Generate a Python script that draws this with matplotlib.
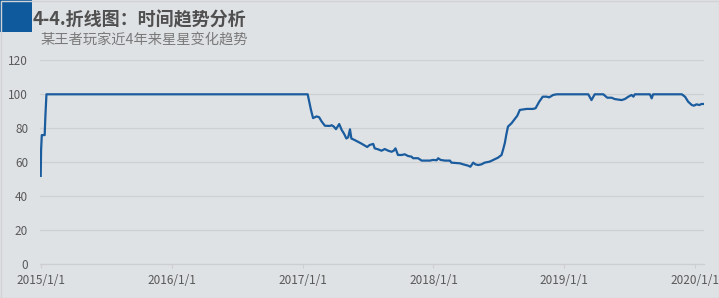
import matplotlib
matplotlib.use("Agg")
import matplotlib.pyplot as plt
import matplotlib.dates as mdates
import pandas as pd
from matplotlib.patches import Rectangle

plt.rcParams['font.family'] = ['Noto Sans CJK SC', 'DejaVu Sans']

title = "4-4.折线图：时间趋势分析"
subtitle = "某王者玩家近4年来星星变化趋势"

dates = [
    "2015-01-01", "2015-01-02", "2015-01-04", "2015-01-12", "2015-01-14", "2015-01-17",
    "2017-01-15", "2017-01-24", "2017-01-30", "2017-02-09", "2017-02-16", "2017-02-23",
    "2017-03-04", "2017-03-18", "2017-03-23", "2017-03-29", "2017-04-04", "2017-04-13",
    "2017-04-20", "2017-04-26", "2017-05-03", "2017-05-08", "2017-05-13", "2017-05-17",
    "2017-05-27", "2017-06-05", "2017-06-14", "2017-06-30", "2017-07-07", "2017-07-17",
    "2017-07-21", "2017-07-31", "2017-08-09", "2017-08-18", "2017-08-28", "2017-09-06",
    "2017-09-12", "2017-09-17", "2017-09-24", "2017-10-04", "2017-10-13", "2017-10-22",
    "2017-11-01", "2017-11-05", "2017-11-19", "2017-11-29", "2017-12-22", "2017-12-31",
    "2018-01-10", "2018-01-14", "2018-01-21", "2018-02-02", "2018-02-16", "2018-02-20",
    "2018-03-16", "2018-03-25", "2018-04-08", "2018-04-14", "2018-04-22", "2018-04-28",
    "2018-05-06", "2018-05-15", "2018-05-24", "2018-06-07", "2018-06-21", "2018-06-30",
    "2018-07-10", "2018-07-14", "2018-07-19", "2018-07-24", "2018-07-28", "2018-08-07",
    "2018-08-16", "2018-08-23", "2018-08-30", "2018-09-18", "2018-10-06", "2018-10-13",
    "2018-10-23", "2018-11-02", "2018-11-13", "2018-11-20", "2018-12-01", "2018-12-11",
    "2019-03-09", "2019-03-18", "2019-03-27", "2019-04-20", "2019-05-01", "2019-05-13",
    "2019-05-22", "2019-06-10", "2019-06-19", "2019-06-29", "2019-07-08", "2019-07-13",
    "2019-07-17", "2019-08-28", "2019-09-02", "2019-09-06", "2019-11-25", "2019-12-04",
    "2019-12-13", "2019-12-23", "2019-12-29", "2020-01-05", "2020-01-13", "2020-01-19",
    "2020-01-26",
]
stars = [
    52, 67, 76, 76, 87, 100,
    100, 91, 86, 87, 86.5, 84,
    81.5, 81.4, 81.8, 81, 79.5, 82.5,
    79, 77, 74, 74.7, 79.4, 74,
    73, 72, 71, 69, 70.2, 70.8,
    68.2, 67.6, 66.8, 67.8, 66.8, 66.2,
    66.8, 68.2, 64.3, 64.3, 64.7, 63.7,
    63.3, 62.4, 62.4, 61, 61, 61.4,
    61.2, 62.4, 61.4, 61, 61, 59.8,
    59.4, 58.8, 58, 57.4, 59.8, 58.8,
    58.4, 58.8, 59.8, 60.4, 61.8, 62.7,
    64.3, 67.2, 71.2, 77, 81, 83,
    85.5, 87.4, 90.8, 91.4, 91.4, 91.8,
    95.6, 98.6, 98.6, 98.2, 99.6, 100,
    100, 96.6, 100, 100, 98, 98,
    97.2, 96.6, 97.2, 98.6, 99.6, 98.6,
    100, 100, 97.6, 100, 100, 98.6,
    95.6, 93.7, 93.3, 94.1, 93.7, 94.3,
    94.3,
]
x_ticks = ["2015-01-01", "2016-01-01", "2017-01-01", "2018-01-01", "2019-01-01", "2020-01-01"]
x_tick_labels = ["2015/1/1", "2016/1/1", "2017/1/1", "2018/1/1", "2019/1/1", "2020/1/1"]
y_ticks = [0, 20, 40, 60, 80, 100, 120]

W, H = 719, 298
bg = "#dfe2e5"
fig = plt.figure(figsize=(W / 100, H / 100), dpi=100, facecolor=bg)

ax = fig.add_axes([40 / W, (H - 264.3) / H, (704 - 40) / W, (264.3 - 60.3) / H])
ax.set_facecolor(bg)

x = pd.to_datetime(dates)
ax.plot(x, stars, color="#1a5c9e", linewidth=1.6, solid_joinstyle="round")

ax.set_ylim(0, 120)
ax.set_yticks(y_ticks)
ax.set_xlim(pd.Timestamp("2014-12-30"), pd.Timestamp("2020-01-26"))
ax.set_xticks(pd.to_datetime(x_ticks))
ax.set_xticklabels(x_tick_labels)

ax.grid(axis="y", color="#cfd0d2", linewidth=0.9)
ax.set_axisbelow(True)
for s in ["top", "right", "left"]:
    ax.spines[s].set_visible(False)
ax.spines["bottom"].set_color("#cdced0")
ax.spines["bottom"].set_linewidth(0.9)
ax.tick_params(axis="y", length=0, pad=8.5, labelsize=8.5, labelcolor="#595959")
ax.tick_params(axis="x", length=3, width=0.8, color="#cdced0", pad=4,
               labelsize=8.5, labelcolor="#595959")

# title block
fig.patches.append(Rectangle((0, 1 - 31.5 / H), 31.5 / W, 31.5 / H,
                             transform=fig.transFigure, facecolor="#0f5a9c",
                             edgecolor="none"))
fig.text(33 / W, 1 - 20 / H, title, fontsize=13, fontweight="bold",
         color="#505050", va="center", ha="left")
fig.text(40 / W, 1 - 41 / H, subtitle, fontsize=10.3, color="#7a7a7a",
         va="center", ha="left")

# outer border
fig.patches.append(Rectangle((0.5 / W, 0.5 / H), 1 - 1 / W, 1 - 1 / H,
                             transform=fig.transFigure, facecolor="none",
                             edgecolor="#d0d2d4", linewidth=1))

fig.savefig("out.png", dpi=100, facecolor=bg)
